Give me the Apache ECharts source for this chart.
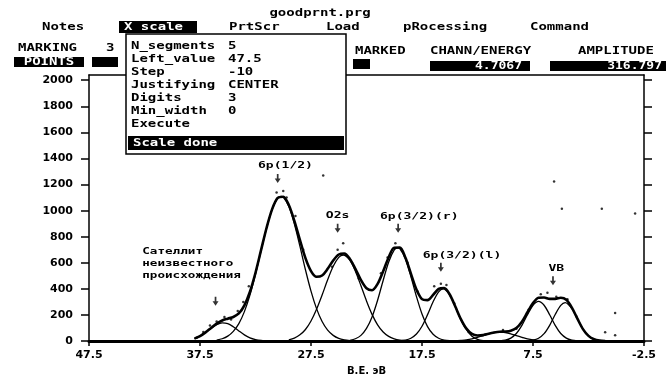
<!DOCTYPE html>
<html>
<head>
<meta charset="utf-8">
<script src="https://cdn.jsdelivr.net/npm/echarts@6/dist/echarts.min.js"></script>
<style>html,body{margin:0;padding:0;background:#fff}#main{width:666px;height:381px}</style>
</head>
<body>
<div id="main"></div>
<script>
// axis ticks (binding energy, eV / intensity)
const xTicks = [47.5, 37.5, 27.5, 17.5, 7.5, -2.5];
const yTicks = [0, 200, 400, 600, 800, 1000, 1200, 1400, 1600, 1800, 2000];

// fitted components [B.E., intensity]
const sat = [[38.0,19],[37.5,38],[37.0,66],[36.5,98],[36.0,126],[35.5,140],[35.0,134],[34.5,110],[34.0,78],[33.5,48],[33.0,25],[32.5,12],[32.0,5],[31.5,2],[31.0,0]];
const p12 = [[36.0,8],[35.5,18],[35.0,38],[34.5,75],[34.0,134],[33.5,226],[33.0,353],[32.5,512],[32.0,692],[31.5,867],[31.0,1011],[30.5,1096],[30.2,1110],[30.0,1103],[29.5,1033],[29.0,899],[28.5,728],[28.0,547],[27.5,383],[27.0,249],[26.5,150],[26.0,84],[25.5,44],[25.0,21],[24.5,10],[24.0,4]];
const o2s = [[29.5,10],[29.0,23],[28.5,48],[28.0,89],[27.5,154],[27.0,244],[26.5,353],[26.0,470],[25.5,574],[25.0,642],[24.6,660],[24.0,620],[23.5,535],[23.0,424],[22.5,308],[22.0,205],[21.5,125],[21.0,70],[20.5,36],[20.0,17],[19.5,7],[19.0,3]];
const p32r = [[24.0,6],[23.5,18],[23.0,44],[22.5,97],[22.0,185],[21.5,313],[21.0,465],[20.5,607],[20.0,699],[19.7,715],[19.5,708],[19.0,631],[18.5,495],[18.0,342],[17.5,208],[17.0,111],[16.5,52],[16.0,22],[15.5,8],[15.0,3]];
const p32l = [[19.5,2],[19.0,7],[18.5,22],[18.0,54],[17.5,114],[17.0,203],[16.5,302],[16.0,378],[15.6,400],[15.0,353],[14.5,263],[14.0,164],[13.5,87],[13.0,38],[12.5,14],[12.0,4],[11.5,1]];
const small = [[15.0,1],[14.5,2],[14.0,5],[13.5,9],[13.0,17],[12.5,29],[12.0,42],[11.5,56],[11.0,66],[10.5,70],[10.0,66],[9.5,56],[9.0,42],[8.5,29],[8.0,17],[7.5,9],[7.0,5],[6.5,2],[6.0,1]];
const vb1 = [[10.5,2],[10.0,7],[9.5,23],[9.0,58],[8.5,120],[8.0,202],[7.5,275],[7.0,305],[6.5,275],[6.0,202],[5.5,120],[5.0,58],[4.5,23],[4.0,7],[3.5,2]];
const vb2 = [[8.0,2],[7.5,7],[7.0,22],[6.5,57],[6.0,121],[5.5,204],[5.0,274],[4.6,295],[4.0,250],[3.5,170],[3.0,92],[2.5,40],[2.0,14],[1.5,4],[1.0,1]];

// sum curve
const envelope = [[38.0,19],[37.5,38],[37.0,67],[36.5,101],[36.0,134],[35.5,158],[35.0,172],[34.5,185],[34.0,212],[33.5,274],[33.0,378],[32.5,524],[32.0,697],[31.5,869],[31.0,1012],[30.5,1098],[30.0,1107],[29.5,1043],[29.0,922],[28.5,776],[28.0,636],[27.5,537],[27.0,493],[26.5,503],[26.0,554],[25.5,618],[25.0,664],[24.5,671],[24.0,630],[23.5,554],[23.0,468],[22.5,405],[22.0,390],[21.5,438],[21.0,535],[20.5,643],[20.0,716],[19.5,717],[19.0,641],[18.5,517],[18.0,396],[17.5,322],[17.0,314],[16.5,354],[16.0,400],[15.5,407],[15.0,357],[14.5,265],[14.0,169],[13.5,96],[13.0,55],[12.5,43],[12.0,46],[11.5,57],[11.0,66],[10.5,72],[10.0,73],[9.5,79],[9.0,100],[8.5,149],[8.0,221],[7.5,291],[7.0,332],[6.5,334],[6.0,324],[5.5,324],[5.0,332],[4.5,317],[4.0,257],[3.5,172],[3.0,92],[2.5,40],[2.0,14],[1.5,4],[1.0,1]];

// measured points
const dots = [[37.8,25],[37.2,70],[36.6,120],[36.0,150],[35.3,185],[34.7,165],[34.1,230],[33.6,300],[33.1,420],[30.6,1140],[30.0,1150],[29.7,1100],[28.9,960],[28.2,700],[26.4,1270],[25.6,570],[25.1,700],[24.6,750],[23.8,600],[23.2,480],[21.2,520],[20.6,640],[19.9,750],[18.8,600],[17.9,380],[16.4,420],[15.8,440],[15.3,430],[14.6,290],[13.3,70],[11.8,50],[10.2,85],[9.0,95],[7.9,240],[6.8,360],[6.2,370],[5.4,340],[4.4,320],[3.6,190],[5.6,1224],[1.3,1015],[-1.7,978],[4.9,1015],[0.1,216],[0.1,45],[1.0,67]];

// peak labels
const labelText = ['6p(1/2)', 'O2s', '6p(3/2)(r)', '6p(3/2)(l)', 'VB'];
const labelBE = [29.8, 25.1, 17.75, 13.9, 5.4];
const labelVal = [1343, 963, 955, 657, 552];
const arrowBE = [30.5, 25.1, 19.65, 15.8, 5.7, 36.1];
const arrowVal = [1246, 866, 866, 567, 463, 306];
const satText = ['Сателлит', 'неизвестного', 'происхождения'];
const satBE = [42.7, 42.7, 42.7];
const satVal = [687, 597, 500];

const dosFont = 'bold 10px "DejaVu Sans Mono"';

function txt(x, y, text, opts) {
  opts = opts || {};
  return {
    type: 'text', x: x, y: y, scaleX: 1.4, z: opts.z || 100,
    style: { text: text, font: dosFont, fill: opts.fill || '#000', align: opts.align || 'left', verticalAlign: 'middle' }
  };
}
function box(x, y, w, h, z) {
  return { type: 'rect', z: z || 100, shape: { x: x, y: y, width: w, height: h }, style: { fill: '#000' } };
}

const popupRows = [['N_segments', '5'], ['Left_value', '47.5'], ['Step', '-10'], ['Justifying', 'CENTER'], ['Digits', '3'], ['Min_width', '0'], ['Execute', '']];

const graphic = [
  txt(320, 13, 'goodprnt.prg', { align: 'center' }),
  txt(42, 27, 'Notes'),
  box(119, 21, 78, 12),
  txt(124, 27, 'X scale', { fill: '#fff', z: 101 }),
  txt(229, 27, 'PrtScr'),
  txt(326, 27, 'Load'),
  txt(403, 27, 'pRocessing'),
  txt(530, 27, 'Command'),
  txt(18, 48, 'MARKING'),
  txt(106, 48, '3'),
  box(14, 57, 70, 10),
  txt(49, 62, 'POINTS', { fill: '#fff', align: 'center', z: 101 }),
  box(92, 57, 26, 10),
  txt(355, 51, 'MARKED'),
  box(353, 59, 17, 10),
  txt(430, 51, 'CHANN/ENERGY'),
  box(430, 61, 100, 10),
  { type: 'text', x: 522, y: 66, z: 101, scaleX: 1.3, style: { text: '4.7067', font: dosFont, fill: '#fff', align: 'right', verticalAlign: 'middle' } },
  txt(578, 51, 'AMPLITUDE'),
  box(550, 61, 116, 10),
  { type: 'text', x: 662, y: 66, z: 101, scaleX: 1.3, style: { text: '316.797', font: dosFont, fill: '#fff', align: 'right', verticalAlign: 'middle' } },
  { type: 'rect', z: 99, shape: { x: 126, y: 34, width: 220, height: 120 }, style: { fill: '#fff', stroke: '#000', lineWidth: 1.5 } },
  box(128, 136, 216, 14),
  txt(133, 143, 'Scale done', { fill: '#fff', z: 101 })
];
popupRows.forEach(function (r, i) {
  graphic.push(txt(131, 46 + i * 13, r[0]));
  if (r[1]) graphic.push(txt(228, 46 + i * 13, r[1]));
});

function compSeries(data) {
  return { type: 'line', data: data, smooth: 0.3, showSymbol: false, silent: true, lineStyle: { color: '#000', width: 1.3 } };
}

const chart = echarts.init(document.getElementById('main'));
chart.setOption({
  animation: false,
  backgroundColor: '#fff',
  grid: { left: 89, right: 22, top: 75, bottom: 32 },
  xAxis: [{
    type: 'value', inverse: true, min: -2.5, max: 47.5,
    name: 'B.E. эВ', nameLocation: 'middle', nameGap: 24,
    nameTextStyle: { color: '#000', fontFamily: 'DejaVu Sans', fontWeight: 'bold', fontSize: 10 },
    axisLine: { show: true, onZero: false, lineStyle: { color: '#000', width: 3 } },
    axisTick: { show: true, length: 5, customValues: xTicks, lineStyle: { color: '#000', width: 1.5 } },
    axisLabel: { customValues: xTicks, margin: 9, color: '#000', fontFamily: 'DejaVu Sans', fontWeight: 'bold', fontSize: 11,
      formatter: function (v) { return v.toFixed(1); } },
    splitLine: { show: false }
  }, {
    type: 'value', position: 'top', inverse: true, min: -2.5, max: 47.5,
    axisLine: { show: true, onZero: false, lineStyle: { color: '#000', width: 1.5 } },
    axisTick: { show: false }, axisLabel: { show: false }, splitLine: { show: false }
  }],
  yAxis: [{
    type: 'value', min: 0, max: 2040,
    axisLine: { show: true, onZero: false, lineStyle: { color: '#000', width: 1.5 } },
    axisTick: { show: true, length: 8, customValues: yTicks, lineStyle: { color: '#000', width: 1.5 } },
    axisLabel: { customValues: yTicks, margin: 16, color: '#000', fontFamily: 'DejaVu Sans', fontWeight: 'bold', fontSize: 11,
      formatter: function (v) { return String(v); } },
    splitLine: { show: false }
  }, {
    type: 'value', position: 'right', min: 0, max: 2040,
    axisLine: { show: true, onZero: false, lineStyle: { color: '#000', width: 1.5 } },
    axisTick: { show: true, length: 8, customValues: yTicks, lineStyle: { color: '#000', width: 1.5 } },
    axisLabel: { show: false }, splitLine: { show: false }
  }],
  graphic: graphic,
  series: [
    compSeries(sat), compSeries(p12), compSeries(o2s), compSeries(p32r),
    compSeries(p32l), compSeries(small), compSeries(vb1), compSeries(vb2),
    { type: 'line', data: envelope, smooth: 0.3, showSymbol: false, silent: true, lineStyle: { color: '#000', width: 2.6 } },
    { type: 'scatter', data: dots, symbolSize: 2.5, itemStyle: { color: '#000' }, silent: true },
    {
      type: 'scatter', silent: true,
      data: arrowBE.map(function (b, i) { return [b, arrowVal[i]]; }),
      symbol: 'path://M2,0 L4,0 L4,5 L6.5,5 L3,10 L-0.5,5 L2,5 Z', symbolSize: [6, 9],
      itemStyle: { color: '#000' }
    },
    {
      type: 'custom', silent: true,
      data: labelBE.map(function (b, i) { return [b, labelVal[i]]; }),
      renderItem: function (params, api) {
        const p = api.coord([api.value(0), api.value(1)]);
        return { type: 'text', x: p[0], y: p[1], scaleX: 1.45,
          style: { text: labelText[params.dataIndex], font: 'bold 9px "DejaVu Sans Mono"', fill: '#000', align: 'center', verticalAlign: 'middle' } };
      }
    },
    {
      type: 'custom', silent: true,
      data: satBE.map(function (b, i) { return [b, satVal[i]]; }),
      renderItem: function (params, api) {
        const p = api.coord([api.value(0), api.value(1)]);
        return { type: 'text', x: p[0], y: p[1], scaleX: 1.4,
          style: { text: satText[params.dataIndex], font: 'bold 9px "DejaVu Sans Mono"', fill: '#000', align: 'left', verticalAlign: 'middle' } };
      }
    }
  ]
});
</script>
</body>
</html>
